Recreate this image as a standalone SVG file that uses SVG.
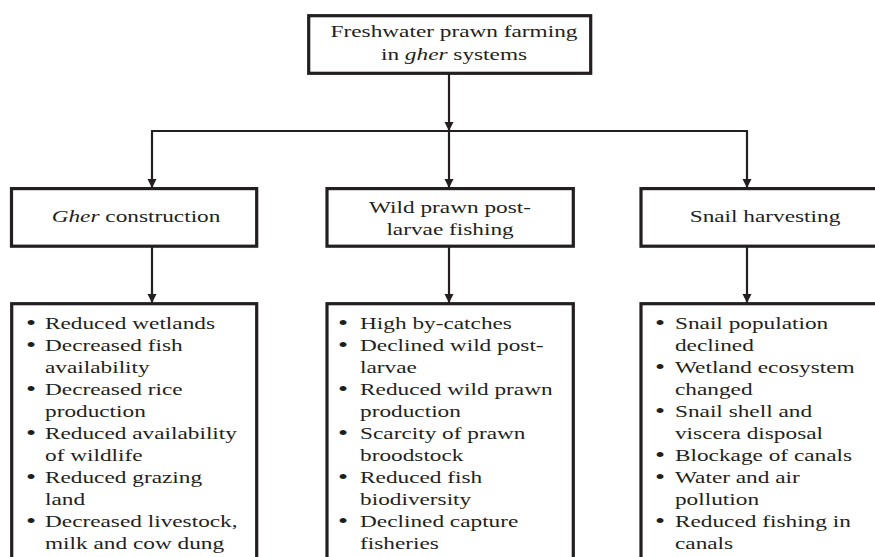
<svg xmlns="http://www.w3.org/2000/svg" width="875" height="557" viewBox="0 0 875 557">
<defs>
<style>
.box { fill: #ffffff; stroke: #231f20; stroke-width: 3.2; }
.conn { stroke: #231f20; stroke-width: 2.2; fill: none; }
text { font-family: "Liberation Serif", "Times New Roman", serif; font-size: 17px; fill: #231f20; }
.c { text-anchor: middle; }
.i { font-style: italic; }
.bul { text-anchor: middle; font-size: 21px; }
</style>
<marker id="arr" markerUnits="userSpaceOnUse" markerWidth="10" markerHeight="10" viewBox="0 0 10 10" refX="9" refY="5" orient="auto">
<path d="M0,0.5 L9,5 L0,9.5 z" fill="#231f20"/>
</marker>
</defs>
<rect width="875" height="557" fill="#ffffff"/>

<g id="connectors">
<line class="conn" x1="449" y1="73" x2="449" y2="131" marker-end="url(#arr)"/>
<line class="conn" x1="151" y1="131" x2="748" y2="131"/>
<line class="conn" x1="152" y1="131" x2="152" y2="188" marker-end="url(#arr)"/>
<line class="conn" x1="449" y1="131" x2="449" y2="188" marker-end="url(#arr)"/>
<line class="conn" x1="747" y1="131" x2="747" y2="188" marker-end="url(#arr)"/>
<line class="conn" x1="152" y1="247" x2="152" y2="303" marker-end="url(#arr)"/>
<line class="conn" x1="449" y1="247" x2="449" y2="303" marker-end="url(#arr)"/>
<line class="conn" x1="747" y1="247" x2="747" y2="303" marker-end="url(#arr)"/>
</g>

<g id="n-top">
<rect class="box" x="308.7" y="15.7" width="282" height="57.6"/>
<g transform="scale(1.37 1)">
<text class="c" x="331.4" y="37">Freshwater prawn farming</text>
<text class="c" x="331.4" y="60">in <tspan class="i">gher</tspan> systems</text>
</g>
</g>

<g id="n-gher">
<rect class="box" x="11.5" y="188.6" width="245.2" height="57.6"/>
<g transform="scale(1.37 1)">
<text class="c" x="99.3" y="222"><tspan class="i">Gher</tspan> construction</text>
</g>
</g>

<g id="n-wild">
<rect class="box" x="327" y="188.6" width="246.3" height="57.6"/>
<g transform="scale(1.37 1)">
<text class="c" x="328.5" y="213.3">Wild prawn post-</text>
<text class="c" x="328.5" y="235.3">larvae fishing</text>
</g>
</g>

<g id="n-snail">
<rect class="box" x="641" y="188.6" width="250" height="57.6"/>
<g transform="scale(1.37 1)">
<text class="c" x="558.4" y="222.5">Snail harvesting</text>
</g>
</g>

<g id="n-gher-effects">
<rect class="box" x="11.7" y="303.7" width="245" height="300"/>
<g transform="scale(1.37 1)">
<text class="bul"><tspan x="22.6" y="330">•</tspan><tspan x="22.6" y="352">•</tspan><tspan x="22.6" y="396">•</tspan><tspan x="22.6" y="440">•</tspan><tspan x="22.6" y="484">•</tspan><tspan x="22.6" y="528">•</tspan></text>
<text><tspan x="32.85" y="329">Reduced wetlands</tspan><tspan x="32.85" y="351">Decreased fish</tspan><tspan x="32.85" y="373">availability</tspan><tspan x="32.85" y="395">Decreased rice</tspan><tspan x="32.85" y="417">production</tspan><tspan x="32.85" y="439">Reduced availability</tspan><tspan x="32.85" y="461">of wildlife</tspan><tspan x="32.85" y="483">Reduced grazing</tspan><tspan x="32.85" y="505">land</tspan><tspan x="32.85" y="527">Decreased livestock,</tspan><tspan x="32.85" y="549">milk and cow dung</tspan></text>
</g>
</g>

<g id="n-wild-effects">
<rect class="box" x="327" y="303.7" width="246.3" height="300"/>
<g transform="scale(1.37 1)">
<text class="bul"><tspan x="250.4" y="330">•</tspan><tspan x="250.4" y="352">•</tspan><tspan x="250.4" y="396">•</tspan><tspan x="250.4" y="440">•</tspan><tspan x="250.4" y="484">•</tspan><tspan x="250.4" y="528">•</tspan></text>
<text><tspan x="262.8" y="329">High by-catches</tspan><tspan x="262.8" y="351">Declined wild post-</tspan><tspan x="262.8" y="373">larvae</tspan><tspan x="262.8" y="395">Reduced wild prawn</tspan><tspan x="262.8" y="417">production</tspan><tspan x="262.8" y="439">Scarcity of prawn</tspan><tspan x="262.8" y="461">broodstock</tspan><tspan x="262.8" y="483">Reduced fish</tspan><tspan x="262.8" y="505">biodiversity</tspan><tspan x="262.8" y="527">Declined capture</tspan><tspan x="262.8" y="549">fisheries</tspan></text>
</g>
</g>

<g id="n-snail-effects">
<rect class="box" x="641" y="303.7" width="250" height="300"/>
<g transform="scale(1.37 1)">
<text class="bul"><tspan x="481.8" y="330">•</tspan><tspan x="481.8" y="374">•</tspan><tspan x="481.8" y="418">•</tspan><tspan x="481.8" y="462">•</tspan><tspan x="481.8" y="484">•</tspan><tspan x="481.8" y="528">•</tspan></text>
<text><tspan x="492.7" y="329">Snail population</tspan><tspan x="492.7" y="351">declined</tspan><tspan x="492.7" y="373">Wetland ecosystem</tspan><tspan x="492.7" y="395">changed</tspan><tspan x="492.7" y="417">Snail shell and</tspan><tspan x="492.7" y="439">viscera disposal</tspan><tspan x="492.7" y="461">Blockage of canals</tspan><tspan x="492.7" y="483">Water and air</tspan><tspan x="492.7" y="505">pollution</tspan><tspan x="492.7" y="527">Reduced fishing in</tspan><tspan x="492.7" y="549">canals</tspan></text>
</g>
</g>
</svg>
